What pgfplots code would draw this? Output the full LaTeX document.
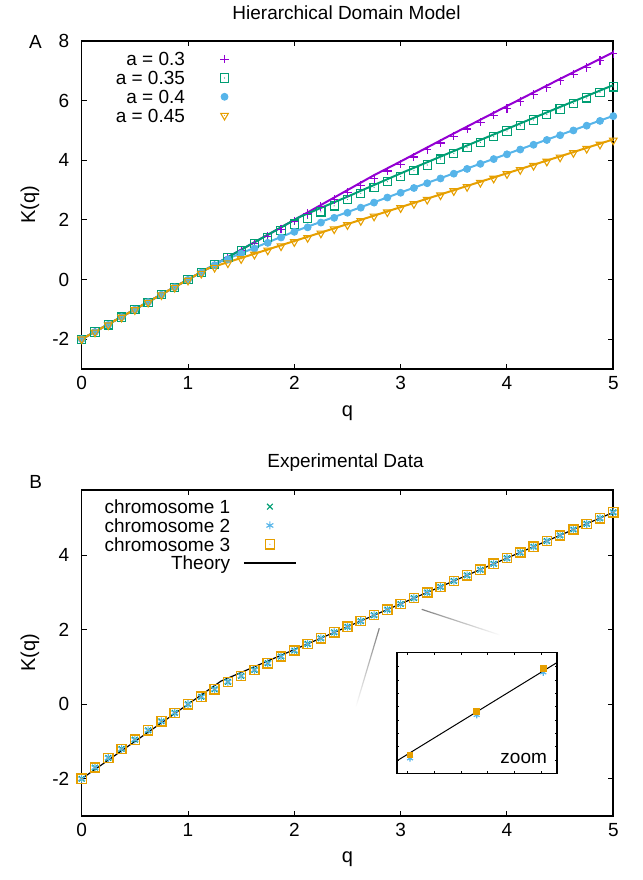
\documentclass[border=0pt]{standalone}
\usepackage{fontspec}
\setmainfont{Liberation Sans}
\usepackage{pgfplots}
\usepackage{pgfplotstable}
\pgfplotsset{compat=1.18}
\usetikzlibrary{fadings}
\definecolor{cpur}{HTML}{9400D3}
\definecolor{cgrn}{HTML}{009E73}
\definecolor{cblu}{HTML}{56B4E9}
\definecolor{cora}{HTML}{E69F00}
\newcommand\gf{\fontsize{9.5}{11.4}\selectfont}

\pgfdeclareplotmark{sqdot}{%
 \pgfpathrectangle{\pgfqpoint{-\pgfplotmarksize}{-\pgfplotmarksize}}{\pgfqpoint{2\pgfplotmarksize}{2\pgfplotmarksize}}%
 \pgfusepathqstroke
 \pgfpathcircle{\pgfpointorigin}{0.3pt}%
 \pgfusepathqfill}
\pgfdeclareplotmark{itridot}{%
 \pgfpathmoveto{\pgfqpoint{0pt}{-\pgfplotmarksize}}%
 \pgfpathlineto{\pgfqpointpolar{30}{\pgfplotmarksize}}%
 \pgfpathlineto{\pgfqpointpolar{150}{\pgfplotmarksize}}%
 \pgfpathclose
 \pgfusepathqstroke
 \pgfpathcircle{\pgfpointorigin}{0.3pt}%
 \pgfusepathqfill}

\pgfplotstableread{
q p g b o
0 -2.00 -2.00 -2.00 -2.00
0.125 -1.76 -1.76 -1.76 -1.77
0.25 -1.52 -1.52 -1.52 -1.53
0.375 -1.26 -1.26 -1.26 -1.27
0.5 -1.01 -1.01 -1.01 -1.02
0.625 -0.76 -0.76 -0.76 -0.77
0.75 -0.51 -0.51 -0.51 -0.52
0.875 -0.26 -0.26 -0.26 -0.27
1.0 -0.01 -0.01 -0.01 -0.03
1.125 0.23 0.23 0.23 0.20
1.25 0.49 0.50 0.48 0.40
1.375 0.74 0.74 0.68 0.55
1.5 0.98 0.98 0.87 0.69
1.625 1.21 1.21 1.04 0.84
1.75 1.45 1.41 1.23 0.98
1.875 1.69 1.65 1.41 1.12
2.0 1.96 1.86 1.60 1.26
2.125 2.21 2.05 1.75 1.40
2.25 2.45 2.27 1.91 1.55
2.375 2.69 2.47 2.07 1.69
2.5 2.92 2.68 2.24 1.83
2.625 3.16 2.89 2.41 1.97
2.75 3.39 3.09 2.58 2.12
2.875 3.64 3.28 2.75 2.26
3.0 3.87 3.46 2.91 2.40
3.125 4.11 3.65 3.07 2.54
3.25 4.35 3.84 3.23 2.68
3.375 4.58 4.04 3.39 2.83
3.5 4.81 4.23 3.55 2.97
3.625 5.05 4.42 3.71 3.11
3.75 5.28 4.60 3.88 3.25
3.875 5.51 4.79 4.04 3.39
4.0 5.74 4.98 4.20 3.54
4.125 5.97 5.16 4.36 3.68
4.25 6.20 5.35 4.52 3.82
4.375 6.43 5.53 4.68 3.96
4.5 6.66 5.72 4.84 4.10
4.625 6.89 5.91 5.00 4.25
4.75 7.11 6.09 5.16 4.39
4.875 7.34 6.28 5.32 4.53
5.0 7.57 6.46 5.48 4.67
}\tabA

\pgfplotstableread{
q c1 c2 c3
0 -2.00 -2.00 -2.00
0.125 -1.70 -1.70 -1.70
0.25 -1.44 -1.44 -1.44
0.375 -1.20 -1.20 -1.20
0.5 -0.95 -0.95 -0.95
0.625 -0.70 -0.70 -0.70
0.75 -0.46 -0.46 -0.46
0.875 -0.23 -0.23 -0.23
1.0 0.00 0.00 0.00
1.125 0.20 0.20 0.20
1.25 0.40 0.40 0.40
1.375 0.60 0.60 0.60
1.5 0.76 0.76 0.76
1.625 0.92 0.92 0.92
1.75 1.10 1.10 1.10
1.875 1.28 1.28 1.28
2.0 1.44 1.44 1.44
2.125 1.62 1.62 1.62
2.25 1.77 1.77 1.77
2.375 1.93 1.93 1.93
2.5 2.08 2.08 2.08
2.625 2.23 2.23 2.23
2.75 2.39 2.39 2.39
2.875 2.54 2.54 2.54
3.0 2.69 2.69 2.69
3.125 2.85 2.85 2.85
3.25 3.00 3.00 3.00
3.375 3.15 3.15 3.15
3.5 3.31 3.31 3.31
3.625 3.46 3.46 3.46
3.75 3.61 3.61 3.61
3.875 3.77 3.77 3.77
4.0 3.92 3.92 3.92
4.125 4.07 4.07 4.07
4.25 4.23 4.23 4.23
4.375 4.38 4.38 4.38
4.5 4.53 4.53 4.53
4.625 4.69 4.69 4.69
4.75 4.84 4.84 4.84
4.875 4.99 4.99 4.99
5.0 5.15 5.15 5.15
}\tabB

\pgfplotsset{
 gpaxis/.style={scale only axis, width=265.8pt, xmin=0, xmax=5,
  xtick={0,1,2,3,4,5}, xticklabels={0,1,2,3,4,5},
  tick align=inside, major tick length=2.5pt,
  axis line style={line width=0.8pt},
  every tick/.style={black, line width=0.5pt},
  tick label style={font=\gf}, yticklabel style={xshift=-2.7pt},
  label style={font=\gf}, xlabel={q}, ylabel={K(q)},
  every axis x label/.style={at={(axis description cs:0.5,-0.134)}, anchor=center},
  every axis y label/.style={at={(axis description cs:-0.0973,0.5)}, rotate=90, anchor=center},
  legend cell align=right, legend plot pos=right,
  legend style={draw=none, fill=none, font=\gf, inner sep=0pt,
   nodes={inner sep=0pt, text height=6.8pt, text depth=0pt}, row sep=2.6pt,
   /tikz/every odd column/.append style={column sep=6.5pt}}},
 mylegimg/.style={legend image code/.code={%
   \draw[##1, draw opacity=0] (0pt,0pt) -- (26pt,0pt);
   \draw[mark repeat=2,mark phase=2,##1] plot coordinates {(0pt,0pt)(13pt,0pt)(26pt,0pt)};}},
}

\begin{document}
\begin{tikzpicture}
\useasboundingbox (0,0) rectangle (321.5pt,440pt);
% ---------- Panel A ----------
\begin{axis}[gpaxis, at={(40.85pt,255.5pt)}, anchor=south west, height=164pt,
  ymin=-3, ymax=8, ytick={-2,0,2,4,6,8}, yticklabels={-2,0,2,4,6,8},
  legend style={at={(0.3194,0.9665)}, anchor=north east}]
\addplot[only marks, mylegimg, color=cpur, mark=+, mark size=2.1pt, line width=0.55pt, mark options={draw=cpur}] table[x=q,y=p] \tabA;
\addlegendentry{a = 0.3}
\addplot[only marks, mylegimg, color=cgrn, mark=sqdot, mark size=2.05pt, line width=0.55pt, mark options={draw=cgrn, fill=cgrn}] table[x=q,y=g] \tabA;
\addlegendentry{a = 0.35}
\addplot[only marks, mylegimg, color=cblu, mark=*, mark size=1.75pt, line width=0.4pt, mark options={draw=cblu, fill=cblu}] table[x=q,y=b] \tabA;
\addlegendentry{a = 0.4}
\addplot[only marks, mylegimg, color=cora, mark=itridot, mark size=2.2pt, line width=0.55pt, mark options={draw=cora, fill=cora}] table[x=q,y=o] \tabA;
\addlegendentry{a = 0.45}
\addplot[forget plot, cpur, line width=1pt] coordinates {(0,-2) (2.75,3.5) (3,3.96) (3.5,4.90) (4,5.82) (4.5,6.73) (5,7.62)};
\addplot[forget plot, cgrn, line width=1pt] coordinates {(0,-2) (2.05,2.1) (2.5,2.78) (3,3.56) (3.5,4.31) (4,5.05) (4.5,5.79) (5,6.52)};
\addplot[forget plot, cblu, line width=1pt] coordinates {(0,-2) (1.3,0.6) (1.5,0.88) (2,1.61) (2.5,2.26) (3,2.92) (3.5,3.56) (4,4.21) (4.5,4.85) (5,5.49)};
\addplot[forget plot, cora, line width=1pt] coordinates {(0,-2) (1.18,0.36) (5,4.70)};
\end{axis}
% ---------- Panel B ----------
\begin{axis}[gpaxis, at={(40.85pt,32pt)}, anchor=south west, height=163pt,
  ymin=-3, ymax=5.75, ytick={-2,0,2,4}, yticklabels={-2,0,2,4},
  legend style={at={(0.405,0.971)}, anchor=north east}]
\addplot[only marks, mylegimg, color=cgrn, mark=x, mark size=2pt, line width=0.55pt, mark options={draw=cgrn}] table[x=q,y=c1] \tabB;
\addlegendentry{chromosome 1}
\addplot[only marks, mylegimg, color=cblu, mark=asterisk, mark size=2pt, line width=0.55pt, mark options={draw=cblu}] table[x=q,y=c2] \tabB;
\addlegendentry{chromosome 2}
\addplot[only marks, mylegimg, color=cora, mark=sqdot, mark size=2.3pt, line width=0.7pt, mark options={draw=cora, fill=cora}] table[x=q,y=c3] \tabB;
\addlegendentry{chromosome 3}
\addplot[mylegimg, black, line width=0.6pt] coordinates {(0,-2) (1.31,0.62) (5,5.15)};
\addlegendentry{Theory}
\draw[gray, line width=0.6pt, path fading=east] (axis cs:3.198,2.547) -- (axis cs:3.934,1.858);
\draw[gray, line width=0.6pt, path fading=south] (axis cs:2.799,2.038) -- (axis cs:2.580,-0.064);
\end{axis}
% ---------- Inset ----------
\begin{axis}[scale only axis, at={(198.35pt,53.35pt)}, anchor=south west,
  width=80.3pt, height=60.3pt, xmin=0, xmax=48.2, ymin=0, ymax=36.2,
  xtick={3.3,11.3,19.3,27.3,35.3,43.3}, ytick={4,8,12,16,20,24,28,32},
  xticklabels={}, yticklabels={}, tick align=inside, major tick length=1.3pt,
  axis line style={line width=0.8pt}, every tick/.style={black, line width=0.4pt},
  axis background/.style={fill=white}]
\addplot[only marks, cblu, mark=asterisk, mark size=1.7pt, line width=0.6pt] coordinates {(4.0,4.5) (24.0,17.5) (44.0,30.3)};
\addplot[only marks, cora, mark=square*, mark size=1.4pt] coordinates {(4.0,5.5) (24.0,18.6) (44.0,31.4)};
\addplot[black, line width=0.5pt] coordinates {(0,3.7) (48.2,33.3)};
\node[anchor=base east, inner sep=0pt, font=\gf] at (rel axis cs:0.938,0.083) {zoom};
\end{axis}
% ---------- Titles and panel letters ----------
\node[anchor=base, inner sep=0pt, font=\gf] at (173.25pt,430pt) {Hierarchical Domain Model};
\node[anchor=base, inner sep=0pt, font=\gf] at (172.75pt,206pt) {Experimental Data};
\node[anchor=base, inner sep=0pt, font=\gf] at (17.75pt,415.5pt) {A};
\node[anchor=base, inner sep=0pt, font=\gf] at (17.9pt,195.5pt) {B};
\end{tikzpicture}
\end{document}
